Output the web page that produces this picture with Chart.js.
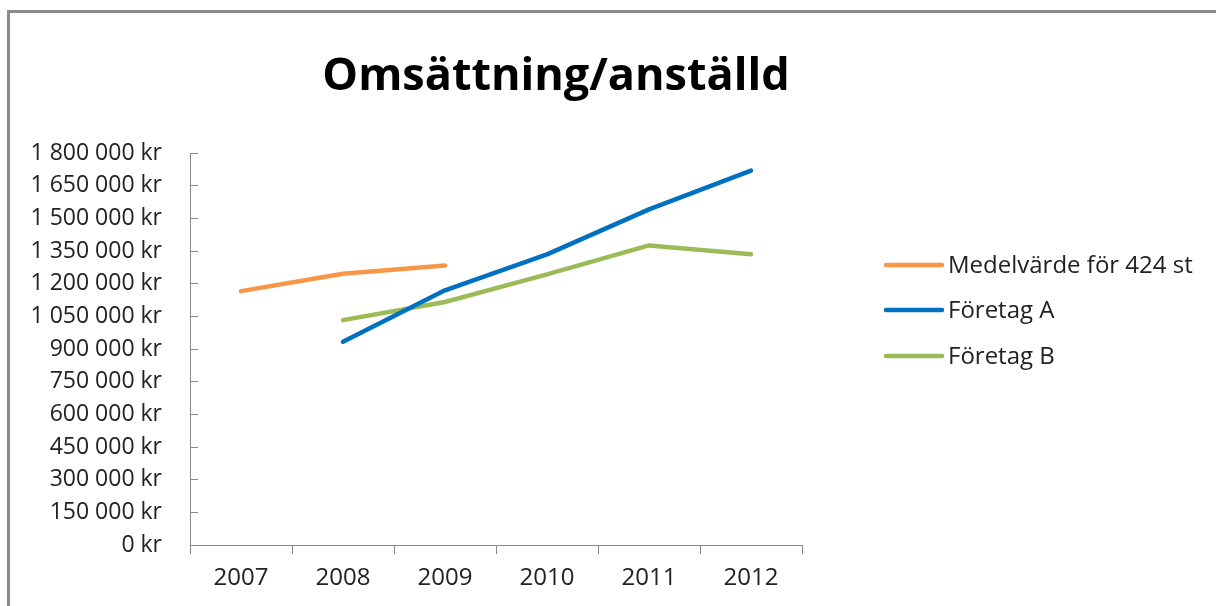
<!DOCTYPE html>
<html lang="sv">
<head>
  <meta charset="UTF-8" />
  <title>Omsättning/anställd</title>
  <script src="https://cdn.jsdelivr.net/npm/chart.js"></script>
  <style>
    html, body { margin: 0; padding: 0; background: #fff; overflow: hidden; }
    .frame {
      position: absolute; left: 7px; top: 10px; width: 1220px; height: 610px;
      border-left: 3px solid #8a8a8a; border-top: 3px solid #8a8a8a;
    }
    #wrap { position: absolute; left: 0; top: 0; width: 1216px; height: 606px; }
  </style>
</head>
<body>
  <div class="frame"></div>
  <div id="wrap"><canvas id="chart"></canvas></div>

  <script>
    // data
    const years = ['2007', '2008', '2009', '2010', '2011', '2012'];
    const medelvarde = [1166000, 1246000, 1284000, null, null, null];
    const foretagA = [null, 934000, 1170000, 1335000, 1541000, 1719000];
    const foretagB = [null, 1033000, 1116000, 1243000, 1376000, 1335000];
    const seriesNames = ['Medelvärde för 424 st', 'Företag A', 'Företag B'];
    const seriesColors = ['#F79646', '#0070C0', '#9BBB59'];
    const chartTitle = 'Omsättning/anställd';

    const FONT = 'Open Sans';

    function kr(v) {
      return v.toString().replace(/\B(?=(\d{3})+(?!\d))/g, ' ') + ' kr';
    }

    // title and legend placed like the original (title over plot+legend, legend on the right)
    const sideLegend = {
      id: 'sideLegend',
      afterDraw(chart) {
        const ctx = chart.ctx;
        ctx.save();
        ctx.fillStyle = '#000';
        ctx.font = 'bold 45px "' + FONT + '"';
        ctx.textAlign = 'center';
        ctx.textBaseline = 'middle';
        ctx.fillText(chartTitle, 556, 77);

        const x0 = 884, rowY = [265, 310, 356];
        ctx.textAlign = 'left';
        chart.data.datasets.forEach((ds, i) => {
          ctx.strokeStyle = ds.borderColor;
          ctx.lineWidth = 4.5;
          ctx.lineCap = 'round';
          ctx.beginPath();
          ctx.moveTo(x0 + 2, rowY[i]);
          ctx.lineTo(x0 + 58, rowY[i]);
          ctx.stroke();
          ctx.fillStyle = '#222';
          ctx.font = '24px "' + FONT + '"';
          ctx.fillText(ds.label, x0 + 64, rowY[i] + 1);
        });
        ctx.restore();
      }
    };

    const mk = (i, data) => ({
      label: seriesNames[i],
      data: data,
      borderColor: seriesColors[i],
      backgroundColor: seriesColors[i],
      borderWidth: 4.5,
      borderCapStyle: 'round',
      borderJoinStyle: 'round',
      pointRadius: 0,
      tension: 0,
      spanGaps: false
    });

    new Chart(document.getElementById('chart'), {
      type: 'line',
      data: {
        labels: years,
        datasets: [mk(0, medelvarde), mk(1, foretagA), mk(2, foretagB)]
      },
      plugins: [sideLegend],
      options: {
        responsive: true,
        maintainAspectRatio: false,
        animation: false,
        layout: { padding: { left: 10, right: 414, top: 153, bottom: 3 } },
        plugins: {
          legend: { display: false },
          tooltip: { enabled: false },
          title: { display: false }
        },
        scales: {
          x: {
            offset: true,
            grid: { display: true, offset: true, drawOnChartArea: false, tickLength: 9, color: '#868686' },
            border: { color: '#868686', width: 1 },
            ticks: { color: '#222', font: { family: FONT, size: 24 }, padding: 10 }
          },
          y: {
            min: 0,
            max: 1800000,
            afterFit: s => { s.width = 180; },
            grid: { display: true, drawOnChartArea: false, tickLength: -8, color: '#868686' },
            border: { color: '#868686', width: 1 },
            ticks: {
              stepSize: 150000,
              color: '#222',
              font: { family: FONT, size: 23 },
              padding: 36,
              callback: v => kr(v)
            }
          }
        }
      }
    });
  </script>
</body>
</html>
